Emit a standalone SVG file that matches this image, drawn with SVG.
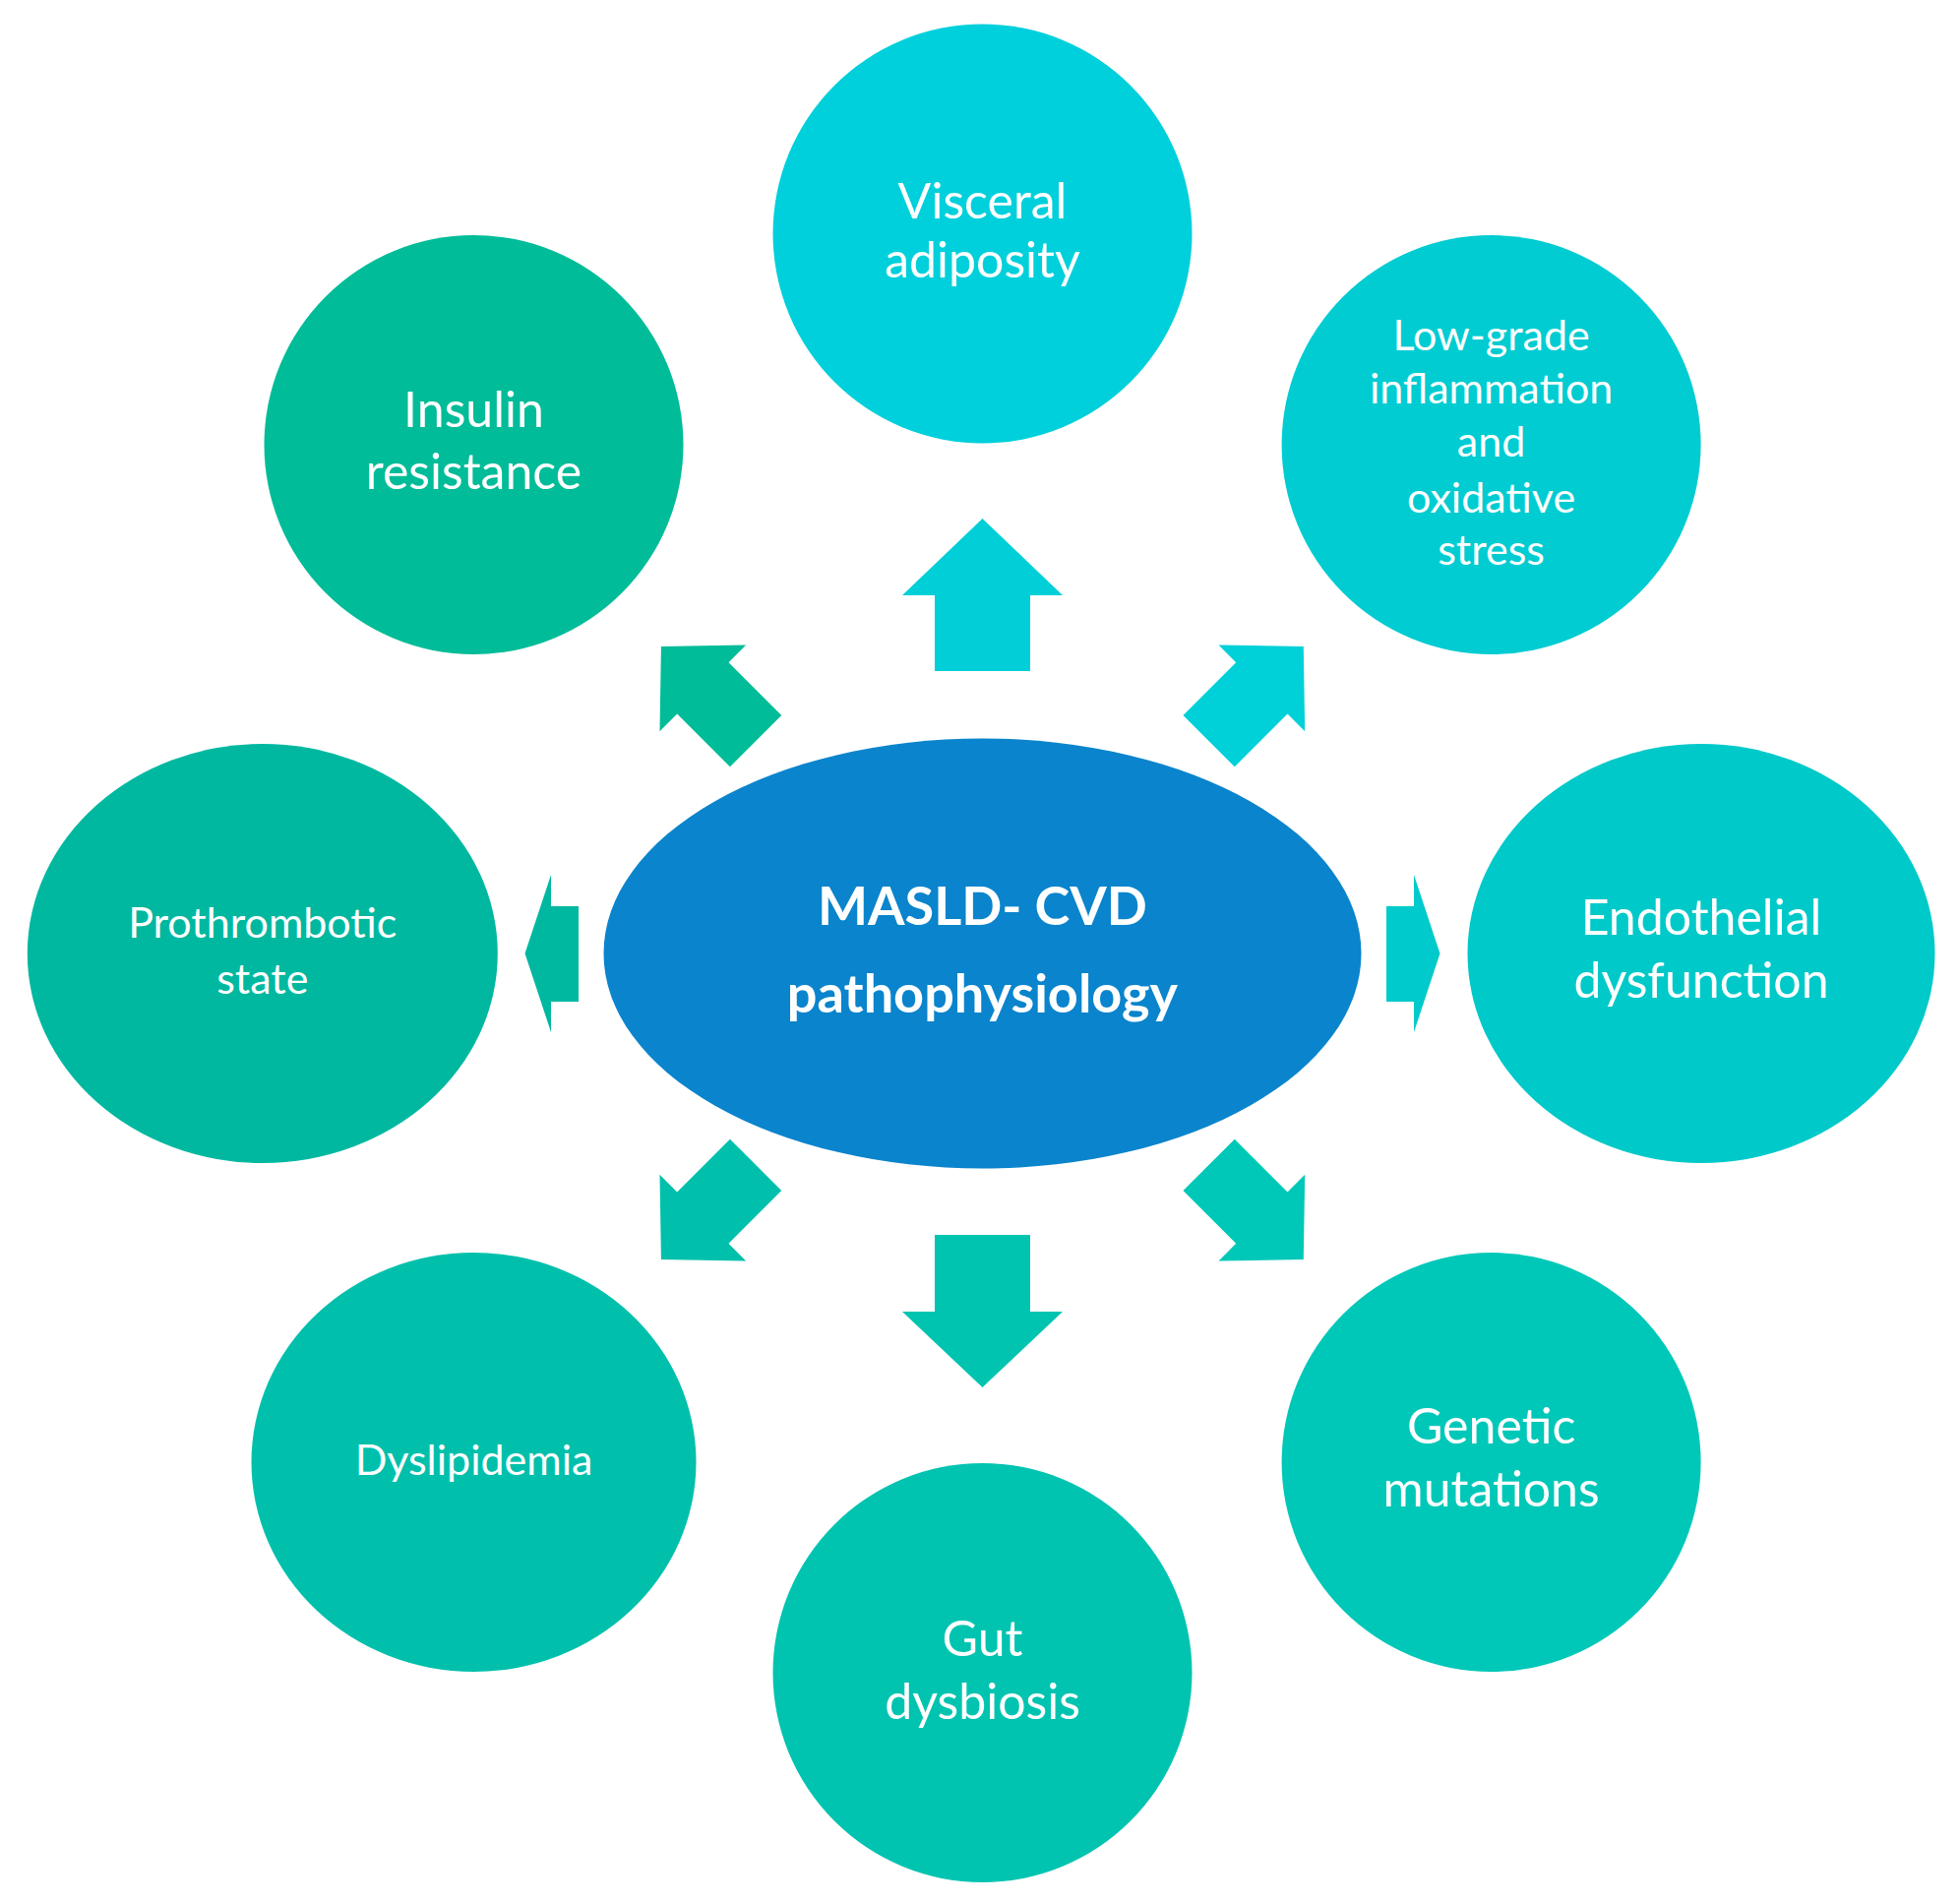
<svg xmlns="http://www.w3.org/2000/svg" width="1992" height="1934" viewBox="0 0 1992 1934">
<style>
.t{font-family:"Lato","Noto Sans","Liberation Sans",sans-serif;fill:#fff;text-anchor:middle;font-size:50px}
.s{font-size:43px}
.c{font-weight:bold;font-size:54px}
</style>
<defs>
<path id="da" d="M0,-68 L62,-8 L37,-8 L37,68 L-37,68 L-37,-8 L-62,-8 Z"/>
</defs>
<rect width="1992" height="1934" fill="#fff"/>
<g id="connectors">
<path d="M998.5,527 L1080,605 L1047,605 L1047,682 L950,682 L950,605 L917,605 Z" fill="#00cfd8"/>
<path d="M998.5,1410 L1080,1333 L1047,1333 L1047,1255 L950,1255 L950,1333 L917,1333 Z" fill="#00c4b0"/>
<path d="M1463.5,969 L1437,889 L1437,921 L1409,921 L1409,1018 L1437,1018 L1437,1049 Z" fill="#00cacb"/>
<path d="M533.5,969 L560,889 L560,921 L588,921 L588,1018 L560,1018 L560,1049 Z" fill="#00b8a0"/>
<use href="#da" transform="translate(1276.7,705) rotate(45)" fill="#00d0d8"/>
<use href="#da" transform="translate(720,705) rotate(-45)" fill="#00bc98"/>
<use href="#da" transform="translate(1276.7,1232) rotate(135)" fill="#00c8b8"/>
<use href="#da" transform="translate(720,1232) rotate(-135)" fill="#00c0ac"/>
</g>
<g id="center"><ellipse cx="998.5" cy="969" rx="385" ry="218.5" fill="#0a84cc"/>
<text class="t c" x="998.5" y="940">MASLD- CVD</text><text class="t c" x="998.5" y="1029">pathophysiology</text></g>
<g id="visceral"><circle cx="998.5" cy="237.5" r="213" fill="#00d0dc"/>
<text class="t" x="998.5" y="222">Visceral</text><text class="t" x="998.5" y="282">adiposity</text></g>
<g id="lowgrade"><circle cx="1515.6" cy="452" r="213" fill="#00ccd2"/>
<text class="t s" x="1515.6" y="356">Low-grade</text><text class="t s" x="1515.6" y="410">inflammation</text><text class="t s" x="1515.6" y="464">and</text><text class="t s" x="1515.6" y="521">oxidative</text><text class="t s" x="1515.6" y="574">stress</text></g>
<g id="endothelial"><ellipse cx="1729" cy="969" rx="237.5" ry="213" fill="#00c9c9"/>
<text class="t" x="1729" y="950">Endothelial</text><text class="t" x="1729" y="1014">dysfunction</text></g>
<g id="genetic"><circle cx="1515.6" cy="1486" r="213" fill="#00c8b8"/>
<text class="t" x="1515.6" y="1467">Genetic</text><text class="t" x="1515.6" y="1531">mutations</text></g>
<g id="gut"><circle cx="998.5" cy="1700" r="213" fill="#00c4b0"/>
<text class="t" x="998.5" y="1683">Gut</text><text class="t" x="998.5" y="1747">dysbiosis</text></g>
<g id="dyslipidemia"><ellipse cx="481.5" cy="1486" rx="226" ry="213" fill="#00c0ac"/>
<text class="t s" x="481.5" y="1499">Dyslipidemia</text></g>
<g id="prothrombotic"><ellipse cx="266.8" cy="969" rx="239" ry="213" fill="#00b8a0"/>
<text class="t s" x="266.8" y="953">Prothrombotic</text><text class="t s" x="266.8" y="1010">state</text></g>
<g id="insulin"><circle cx="481.5" cy="452" r="213" fill="#00bc98"/>
<text class="t" x="481.5" y="434">Insulin</text><text class="t" x="481.5" y="497">resistance</text></g>
</svg>
